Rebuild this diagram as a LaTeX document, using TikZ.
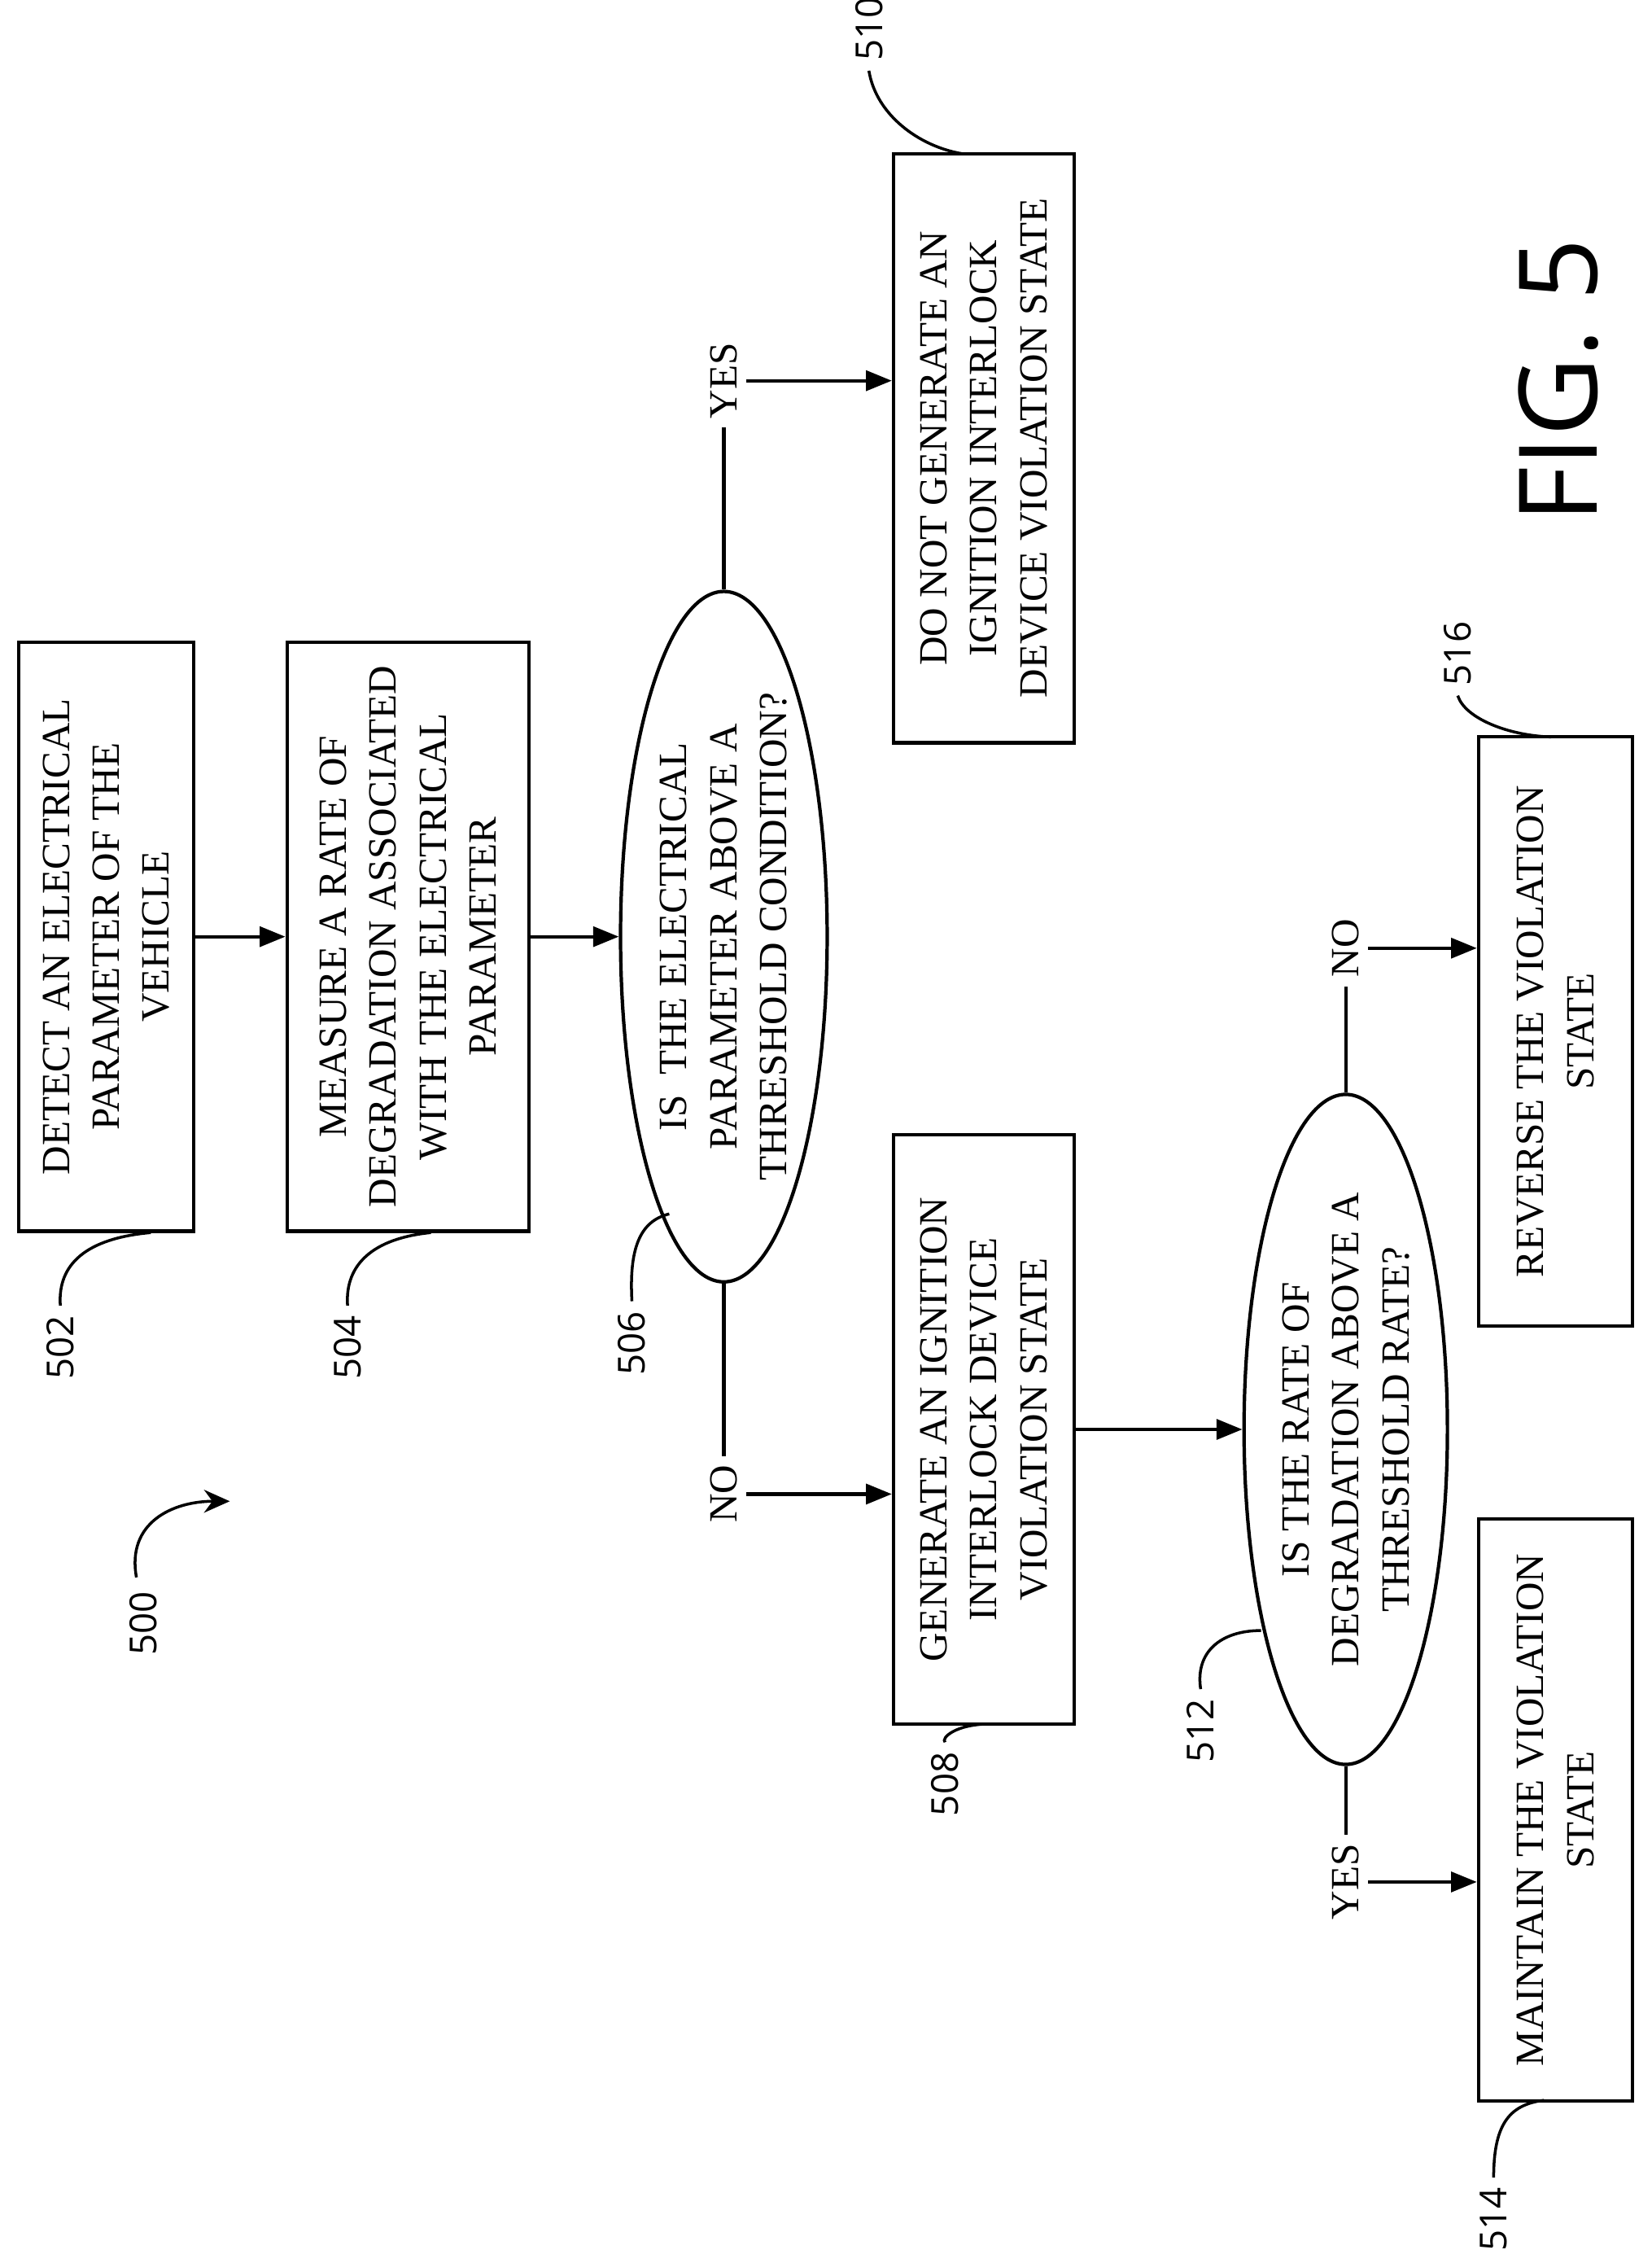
\documentclass[tikz,border=0pt]{standalone}
\usepackage{fontspec}
\setmainfont{Liberation Serif}
\newfontfamily\labfont{Open Sans}
\usetikzlibrary{shapes.geometric,arrows.meta}
\tikzset{
  box/.style={draw, line width=1.2pt, rotate=90, align=center, inner sep=2pt,
    font=\fontsize{14}{17.5}\selectfont},
  dec/.style={box, ellipse, inner sep=0pt},
  flow/.style={line width=1.2pt, -{Triangle[length=9pt,width=7pt]}},
  tag/.style={rotate=90, font=\labfont\fontsize{13}{15}\selectfont},
  yn/.style={rotate=90, fill=white, inner sep=3pt, font=\fontsize{14}{17}\selectfont},
  lead/.style={line width=1pt}
}
\begin{document}
\begin{tikzpicture}[x=0.01765cm,y=-0.01765cm]
\useasboundingbox (0,0) rectangle (1150,1569);
% boxes
\node[box, minimum width=7.24cm, minimum height=2.15cm] (n502) at (74,652)
  {DETECT AN ELECTRICAL\\PARAMETER OF THE\\VEHICLE};
\node[box, minimum width=7.24cm, minimum height=2.97cm] (n504) at (284,652)
  {MEASURE A RATE OF\\DEGRADATION ASSOCIATED\\WITH THE ELECTRICAL\\PARAMETER};
\node[dec, minimum width=8.03cm, minimum height=2.54cm] (n506) at (504,652)
  {IS \ THE ELECTRICAL\\PARAMETER ABOVE A\\THRESHOLD CONDITION?};
\node[box, minimum width=7.24cm, minimum height=2.22cm] (n510) at (685,312)
  {DO NOT GENERATE AN\\IGNITION INTERLOCK\\DEVICE VIOLATION STATE};
\node[box, minimum width=7.24cm, minimum height=2.22cm] (n508) at (685,995)
  {GENERATE AN IGNITION\\INTERLOCK DEVICE\\VIOLATION STATE};
\node[dec, minimum width=8.01cm, minimum height=2.5cm] (n512) at (937,995)
  {IS THE RATE OF\\DEGRADATION ABOVE A\\THRESHOLD RATE?};
\node[box, minimum width=7.24cm, minimum height=1.89cm] (n516) at (1083,718)
  {REVERSE THE VIOLATION\\STATE};
\node[box, minimum width=7.15cm, minimum height=1.89cm] (n514) at (1083,1260)
  {MAINTAIN THE VIOLATION\\STATE};
% connectors
\draw[flow] (n502) -- (n504);
\draw[flow] (n504) -- (n506);
\draw[flow] (n508.south) -- (n512.north);
\node[yn] (yes1) at (504,265) {YES};
\node[yn] (no1) at (504,1040) {NO};
\node[yn] (no2) at (937,660) {NO};
\node[yn] (yes2) at (937,1310) {YES};
\draw[line width=1.2pt] (n506.east) -- (yes1);
\draw[flow] (yes1) -- (yes1 -| n510.north);
\draw[line width=1.2pt] (n506.west) -- (no1);
\draw[flow] (no1) -- (no1 -| n508.north);
\draw[line width=1.2pt] (n512.east) -- (no2);
\draw[flow] (no2) -- (no2 -| n516.north);
\draw[line width=1.2pt] (n512.west) -- (yes2);
\draw[flow] (yes2) -- (yes2 -| n514.north);
% reference numerals
\node[tag] (t502) at (42,938) {502};
\draw[lead] (t502.east) .. controls (40,880) and (60,862) .. (105,858);
\node[tag] (t504) at (242,938) {504};
\draw[lead] (t504.east) .. controls (240,880) and (260,862) .. (300,858);
\node[tag] (t506) at (440,935) {506};
\draw[lead] (t506.east) .. controls (438,870) and (445,850) .. (466,845);
\node[tag] (t510) at (605,20) {510};
\draw[lead] (t510.west) .. controls (610,80) and (640,102) .. (670,107);
\node[tag] (t508) at (658,1242) {508};
\draw[lead] (t508.east) .. controls (655,1210) and (665,1200) .. (690,1200);
\node[tag] (t512) at (836,1205) {512};
\draw[lead] (t512.east) .. controls (832,1150) and (850,1135) .. (878,1135);
\node[tag] (t516) at (1015,455) {516};
\draw[lead] (t516.west) .. controls (1020,500) and (1050,512) .. (1080,513);
\node[tag] (t514) at (1040,1545) {514};
\draw[lead] (t514.east) .. controls (1040,1480) and (1050,1465) .. (1075,1462);
\node[tag] (t500) at (100,1130) {500};
\draw[lead, -{Stealth[length=9pt,width=8pt]}] (95,1098) .. controls (88,1060) and (120,1045) .. (160,1045);
% figure label
\node[rotate=90, font=\labfont\fontsize{38}{40}\selectfont] (fig) at (1085,265) {FIG. 5};
\end{tikzpicture}
\end{document}
